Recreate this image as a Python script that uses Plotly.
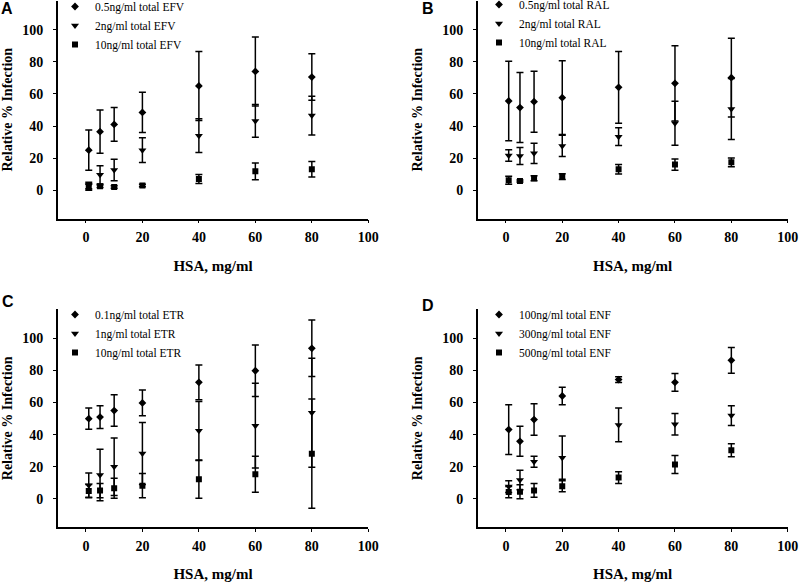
import plotly.graph_objects as go

# ---------------- data ----------------
hsa = [1, 5, 10, 20, 40, 60, 80]

# Panel A (EFV)
efv_05 = [25, 36.5, 41, 48.5, 65, 74, 70.5]
efv_05_err = [12.5, 13.5, 10.5, 12.5, 21.5, 21.5, 14.5]
efv_2 = [3, 9.6, 12.7, 25, 34, 43.2, 46.5]
efv_2_err = [2, 5.7, 6.7, 7.7, 10.5, 10.2, 12]
efv_10 = [2, 2.5, 2, 3, 7, 11.8, 13.1]
efv_10_err = [2, 0.8, 0.8, 0.8, 2.8, 5.2, 4.8]

# Panel B (RAL)
ral_05 = [55.6, 51.5, 55.2, 57.7, 64.1, 66.6, 70.1]
ral_05_err = [24.8, 21.8, 19, 23, 22.4, 23.4, 24.5]
ral_2 = [21.6, 21.4, 23, 27.6, 33.4, 41.7, 50.6]
ral_2_err = [3.6, 5.3, 6.3, 6.6, 5.5, 13.7, 19]
ral_10 = [6.2, 5.8, 7.5, 8.5, 13.1, 16, 17.4]
ral_10_err = [2.5, 0.6, 1.5, 1.8, 2.9, 3.5, 2.7]

# Panel C (ETR)
etr_01 = [50, 51, 55, 59.8, 72.6, 79.8, 93.8]
etr_01_err = [6.6, 7.1, 9.8, 8, 10.8, 16, 17.6]
etr_1 = [8.5, 14.9, 20.1, 28.3, 42.5, 45.6, 53.7]
etr_1_err = [7.7, 16, 17.9, 19.3, 18.2, 26.4, 33.9]
etr_10 = [5, 5.2, 6.7, 8.3, 12.2, 15.4, 28.2]
etr_10_err = [4, 4.5, 6.2, 7.5, 11.8, 11.2, 34]

# Panel D (ENF)
enf_100 = [43.2, 35.9, 49.4, 64.1, 74.3, 72.6, 86.3]
enf_100_err = [15.5, 9.3, 9.8, 5.4, 1.8, 5.5, 8]
enf_300 = [7.7, 11.8, 23.2, 25.7, 46.1, 46.5, 51.9]
enf_300_err = [3.7, 6, 3.4, 13.5, 10.5, 6.7, 6.2]
enf_500 = [4.3, 4.5, 5.3, 7.9, 13.3, 21.4, 30.3]
enf_500_err = [3.5, 4.3, 4.3, 3.4, 3.7, 5.6, 4]

x_ticks = [0, 20, 40, 60, 80, 100]
y_ticks = [0, 20, 40, 60, 80, 100]

panels = [
    ("A", [("0.5ng/ml total EFV", efv_05, efv_05_err),
           ("2ng/ml total EFV", efv_2, efv_2_err),
           ("10ng/ml total EFV", efv_10, efv_10_err)]),
    ("B", [("0.5ng/ml total RAL", ral_05, ral_05_err),
           ("2ng/ml total RAL", ral_2, ral_2_err),
           ("10ng/ml total RAL", ral_10, ral_10_err)]),
    ("C", [("0.1ng/ml total ETR", etr_01, etr_01_err),
           ("1ng/ml total ETR", etr_1, etr_1_err),
           ("10ng/ml total ETR", etr_10, etr_10_err)]),
    ("D", [("100ng/ml total ENF", enf_100, enf_100_err),
           ("300ng/ml total ENF", enf_300, enf_300_err),
           ("500ng/ml total ENF", enf_500, enf_500_err)]),
]

# ---------------- layout geometry (pixels) ----------------
W, H = 800, 582
XR = [-10, 100]
YR = [-17.7, 118]
xpx = {"A": (57.7, 368.3), "B": (477.7, 787.7), "C": (57.7, 368.3), "D": (477.7, 787.7)}
ypx = {"A": (0.8, 218.7), "B": (0.8, 218.7), "C": (309.4, 527.4), "D": (309.4, 527.4)}
legpos = {"A": (55, -8), "B": (479, -10), "C": (55, 300), "D": (479, 300)}
letterpos = {"A": (7, 9), "B": (428, 9), "C": (8, 302), "D": (428, 305)}

symbols = ["diamond", "triangle-down", "square"]
sizes = [6, 7, 6]

SERIF = "Liberation Serif"
SANS = "Liberation Sans"

fig = go.Figure()
layout = dict(
    width=W, height=H, margin=dict(l=0, r=0, t=0, b=0, autoexpand=False),
    paper_bgcolor="white", plot_bgcolor="white", showlegend=True,
    annotations=[],
)

for i, (letter, series) in enumerate(panels):
    n = "" if i == 0 else str(i + 1)
    xa, ya = "x" + n, "y" + n
    lg = "legend" + n
    for j, (name, vals, errs) in enumerate(series):
        fig.add_trace(go.Scatter(
            x=hsa, y=vals, name=name, mode="markers",
            xaxis=xa, yaxis=ya, legend=lg,
            marker=dict(symbol=symbols[j], size=sizes[j], color="black",
                        line=dict(width=0)),
            error_y=dict(type="data", array=errs, visible=True,
                         color="black", thickness=1.5, width=3.5),
        ))
    x0, x1 = xpx[letter]
    yt, yb = ypx[letter]
    axfont = dict(family=SERIF, size=14, color="black")
    layout["xaxis" + n] = dict(
        domain=[x0 / W, x1 / W], range=XR, anchor=ya,
        tickvals=x_ticks, ticktext=["<b>%d</b>" % v for v in x_ticks],
        showline=True, linecolor="black", linewidth=1.5,
        ticks="outside", ticklen=3, tickcolor="black", tickwidth=1,
        showgrid=False, zeroline=False, tickfont=axfont,
        ticklabelstandoff=2, automargin=False,
        title=dict(text="<b>HSA, mg/ml</b>", font=dict(family=SERIF, size=15, color="black"), standoff=16),
    )
    layout["yaxis" + n] = dict(
        domain=[(H - yb) / H, (H - yt) / H], range=YR, anchor=xa,
        tickvals=y_ticks, ticktext=["<b>%d</b>" % v for v in y_ticks],
        showline=True, linecolor="black", linewidth=1.5,
        ticks="outside", ticklen=3, tickcolor="black", tickwidth=1,
        showgrid=False, zeroline=False, tickfont=axfont,
        ticklabelstandoff=7, automargin=False,
        title=dict(text="<b>Relative % Infection</b>", font=dict(family=SERIF, size=14, color="black"), standoff=16),
    )
    lx, ly = legpos[letter]
    layout[lg] = dict(
        x=lx / W, y=(H - ly) / H, xanchor="left", yanchor="top",
        xref="paper", yref="paper",
        bgcolor="rgba(0,0,0,0)", borderwidth=0, itemwidth=30,
        font=dict(family=SERIF, size=11.5, color="black"), tracegroupgap=0,
    )
    tx, ty = letterpos[letter]
    layout["annotations"].append(dict(
        text="<b>%s</b>" % letter, x=tx / W, y=(H - ty) / H, xref="paper", yref="paper",
        xanchor="center", yanchor="middle", showarrow=False,
        font=dict(family=SANS, size=16, color="black"),
    ))

fig.update_layout(**layout)
fig.write_html(
    "out.html",
    config={"displayModeBar": False},
    post_script="document.body.style.margin='0';document.body.style.overflow='hidden';",
)
